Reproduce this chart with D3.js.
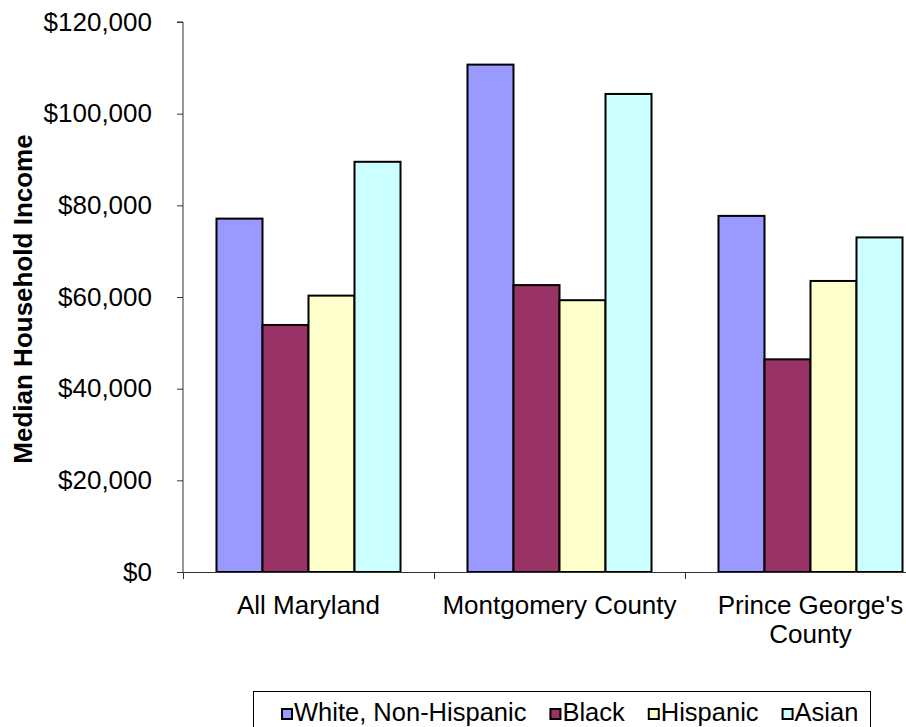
<!DOCTYPE html>
<html>
<head>
<meta charset="utf-8">
<script src="https://cdn.jsdelivr.net/npm/d3@7"></script>
<style>
  html, body { margin: 0; padding: 0; background: #fff; }
  svg { display: block; font-family: "Liberation Sans", Arial, sans-serif; }
</style>
</head>
<body>
<svg id="chart" width="906" height="727"></svg>
<script>
// Median household income by race / ethnicity
const categories = ["All Maryland", "Montgomery County", "Prince George's County"];
const categoryLines = [["All Maryland"], ["Montgomery County"], ["Prince George's", "County"]];
const seriesNames = ["White, Non-Hispanic", "Black", "Hispanic", "Asian"];
const whiteNonHispanic = [77100, 110700, 77700];
const black = [53900, 62600, 46400];
const hispanic = [60300, 59300, 63500];
const asian = [89500, 104300, 73000];
const seriesColors = ["#9999FF", "#993366", "#FFFFCC", "#CCFFFF"];
const yTicks = [0, 20000, 40000, 60000, 80000, 100000, 120000];
const yTitle = "Median Household Income";

const seriesValues = [whiteNonHispanic, black, hispanic, asian];
const rows = categories.map((c, i) => ({
  category: c,
  values: seriesNames.map((s, j) => ({ series: s, value: seriesValues[j][i], color: seriesColors[j] }))
}));

const svg = d3.select("#chart");
const plot = { left: 183, top: 22, bottom: 572, right: 936 };

const y = d3.scaleLinear().domain([0, 120000]).range([plot.bottom, plot.top]);
const x0 = d3.scaleBand().domain(categories).range([plot.left, plot.right]).padding(0);
const x1 = d3.scaleBand().domain(seriesNames).range([0, x0.bandwidth()])
  .paddingInner(0).paddingOuter(0.728);

// bars
const groups = svg.append("g").selectAll("g")
  .data(rows).join("g")
  .attr("transform", d => `translate(${x0(d.category)},0)`);

groups.selectAll("rect")
  .data(d => d.values).join("rect")
  .attr("x", d => x1(d.series))
  .attr("y", d => y(d.value))
  .attr("width", x1.bandwidth())
  .attr("height", d => y(0) - y(d.value))
  .attr("fill", d => d.color)
  .attr("stroke", "#000")
  .attr("stroke-width", 2);

// y axis
const yAxis = svg.append("g")
  .attr("transform", `translate(${plot.left},0)`)
  .call(d3.axisLeft(y).tickValues(yTicks).tickSize(6).tickPadding(25)
    .tickFormat(d => "$" + d3.format(",")(d)));
yAxis.select(".domain").attr("stroke", "#333").attr("d", `M-6,${plot.top}H0V${plot.bottom}`);
yAxis.selectAll(".tick line").attr("stroke", "#333");
yAxis.selectAll(".tick text")
  .attr("font-size", 26).attr("fill", "#000")
  .attr("font-family", "'Liberation Sans', Arial, sans-serif");

// x axis: baseline and category separators
const xAxis = svg.append("g");
xAxis.append("line")
  .attr("x1", plot.left - 6).attr("x2", 906)
  .attr("y1", y(0) + 0.5).attr("y2", y(0) + 0.5)
  .attr("stroke", "#333");
const edges = categories.map(c => x0(c)).concat([x0(categories[categories.length - 1]) + x0.bandwidth()]);
xAxis.selectAll("line.sep")
  .data(edges).join("line")
  .attr("class", "sep")
  .attr("x1", d => Math.round(d) + 0.5).attr("x2", d => Math.round(d) + 0.5)
  .attr("y1", y(0)).attr("y2", y(0) + 7)
  .attr("stroke", "#333");

const catLabels = xAxis.selectAll("text.cat")
  .data(categories).join("text")
  .attr("class", "cat")
  .attr("x", d => x0(d) + x0.bandwidth() / 2)
  .attr("y", 614)
  .attr("text-anchor", "middle")
  .attr("font-size", 26)
  .attr("fill", "#000");
catLabels.each(function (d, i) {
  d3.select(this).selectAll("tspan")
    .data(categoryLines[i]).join("tspan")
    .attr("x", x0(d) + x0.bandwidth() / 2)
    .attr("dy", (t, k) => k === 0 ? 0 : 29)
    .text(t => t);
});

// y axis title
svg.append("text")
  .attr("transform", `translate(32,299) rotate(-90)`)
  .attr("text-anchor", "middle")
  .attr("font-size", 26)
  .attr("font-weight", "bold")
  .attr("fill", "#000")
  .text(yTitle);

// legend
const legend = svg.append("g");
legend.append("rect")
  .attr("x", 253.5).attr("y", 691.5)
  .attr("width", 617).attr("height", 60)
  .attr("fill", "#fff").attr("stroke", "#000").attr("stroke-width", 1);

let lx = 282;
seriesNames.forEach((s, i) => {
  legend.append("rect")
    .attr("x", lx).attr("y", 709)
    .attr("width", 10).attr("height", 10)
    .attr("fill", seriesColors[i])
    .attr("stroke", "#000").attr("stroke-width", 2);
  const t = legend.append("text")
    .attr("x", lx + 12).attr("y", 721)
    .attr("font-size", 25.5)
    .attr("fill", "#000")
    .text(s);
  lx += 12 + t.node().getComputedTextLength() + 24;
});
</script>
</body>
</html>
